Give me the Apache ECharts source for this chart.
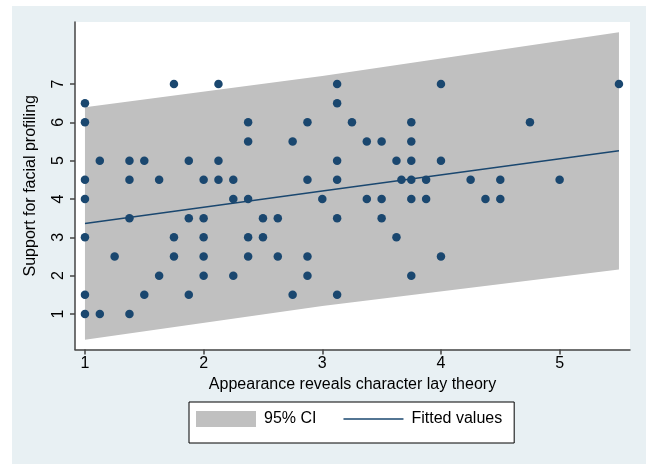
<!DOCTYPE html>
<html>
<head>
<meta charset="utf-8">
<script src="https://cdn.jsdelivr.net/npm/echarts@6/dist/echarts.min.js"></script>
<style>
html,body{margin:0;padding:0;background:#fff;width:646px;height:464px;overflow:hidden;}
#bg{position:absolute;left:12px;top:6px;width:634px;height:458px;background:#e8f0f3;}
#chart{position:absolute;left:0;top:0;width:646px;height:464px;}
</style>
</head>
<body>
<div id="bg"></div>
<div id="chart"></div>
<script>
// Scatter observations (appearance lay theory, support for facial profiling)
const pointX = [
  1,1,1,1,1,1,1,
  1.125,1.125,
  1.25,
  1.375,1.375,1.375,1.375,
  1.5,1.5,
  1.625,1.625,
  1.75,1.75,1.75,
  1.875,1.875,1.875,
  2,2,2,2,2,
  2.125,2.125,2.125,
  2.25,2.25,2.25,
  2.375,2.375,2.375,2.375,2.375,
  2.5,2.5,
  2.625,2.625,
  2.75,2.75,
  2.875,2.875,2.875,2.875,
  3,
  3.125,3.125,3.125,3.125,3.125,3.125,
  3.25,
  3.375,3.375,
  3.5,3.5,3.5,
  3.625,3.625,
  3.667,
  3.75,3.75,3.75,3.75,3.75,3.75,
  3.875,3.875,
  4,4,4,
  4.25,
  4.375,
  4.5,4.5,
  4.75,
  5,
  5.5
];
const pointY = [
  6.5,6,4.5,4,3,1.5,1,
  5,1,
  2.5,
  5,4.5,3.5,1,
  5,1.5,
  4.5,2,
  7,3,2.5,
  5,3.5,1.5,
  4.5,3.5,3,2.5,2,
  7,5,4.5,
  4.5,4,2,
  6,5.5,4,3,2.5,
  3.5,3,
  3.5,2.5,
  5.5,1.5,
  6,4.5,2.5,2,
  4,
  7,6.5,5,4.5,3.5,1.5,
  6,
  5.5,4,
  5.5,4,3.5,
  5,3,
  4.5,
  6,5.5,5,4.5,4,2,
  4.5,4,
  7,5,2.5,
  4.5,
  4,
  4.5,4,
  6,
  4.5,
  7
];
// Fitted line and 95% CI band
const fitX = [1, 3, 5.5];
const fitY = [3.36, 4.21, 5.26];
const ciLower = [0.33, 1.21, 2.16];
const ciUpper = [6.39, 7.21, 8.35];
const xTicks = [1, 2, 3, 4, 5];
const yTicks = [1, 2, 3, 4, 5, 6, 7];

const scatterData = pointX.map((x, i) => [x, pointY[i]]);
const fitData = fitX.map((x, i) => [x, fitY[i]]);
const bandData = fitX.map((x, i) => [x, ciLower[i], ciUpper[i]]);

const FONT = '"Liberation Sans", Arial, Helvetica, sans-serif';
const chart = echarts.init(document.getElementById('chart'), null, {renderer: 'canvas'});

chart.setOption({
  backgroundColor: 'transparent',
  animation: false,
  textStyle: {fontFamily: FONT},
  grid: {
    left: 75, top: 22, width: 555, height: 327.5,
    show: true, backgroundColor: '#ffffff', borderWidth: 0,
    containLabel: false
  },
  xAxis: {
    type: 'value', min: 0.916, max: 5.593,
    name: 'Appearance reveals character lay theory',
    nameLocation: 'middle', nameGap: 27,
    nameTextStyle: {fontSize: 16, color: '#000', fontFamily: FONT},
    axisLine: {show: true, onZero: false, lineStyle: {color: '#444', width: 1.5}},
    axisTick: {show: true, length: 5, customValues: xTicks, lineStyle: {color: '#444', width: 1.5}},
    axisLabel: {customValues: xTicks, fontSize: 16, color: '#000', margin: 6, fontFamily: FONT},
    splitLine: {show: false}
  },
  yAxis: {
    type: 'value', min: 0.074, max: 8.617,
    name: 'Support for facial profiling',
    nameLocation: 'middle', nameGap: 36, nameRotate: 90,
    nameTextStyle: {fontSize: 16, color: '#000', fontFamily: FONT},
    axisLine: {show: true, onZero: false, lineStyle: {color: '#444', width: 1.5}},
    axisTick: {show: true, length: 5, customValues: yTicks, lineStyle: {color: '#444', width: 1.5}},
    axisLabel: {customValues: yTicks, rotate: 90, fontSize: 16, color: '#000', margin: 8, fontFamily: FONT},
    splitLine: {show: false}
  },
  legend: {
    left: 189, top: 402,
    padding: [9, 12, 16, 7],
    backgroundColor: '#ffffff', borderColor: '#000', borderWidth: 1,
    itemWidth: 60, itemHeight: 16, itemGap: 27,
    textStyle: {fontSize: 16, color: '#000', fontFamily: FONT, padding: [0, 0, 0, 3]},
    data: [
      {name: '95% CI', icon: 'rect'},
      {name: 'Fitted values', icon: 'path://M0,0 L60,0 L60,1.5 L0,1.5 Z'}
    ]
  },
  series: [
    {
      name: '95% CI', type: 'custom', data: bandData, z: 1,
      itemStyle: {color: '#c0c0c0'},
      encode: {x: 0, y: [1, 2]},
      renderItem: function (params, api) {
        if (params.dataIndex !== 0) return null;
        const up = [], lo = [];
        for (let i = 0; i < bandData.length; i++) {
          up.push(api.coord([bandData[i][0], bandData[i][2]]));
          lo.unshift(api.coord([bandData[i][0], bandData[i][1]]));
        }
        return {type: 'polygon', shape: {points: up.concat(lo)}, style: {fill: '#c0c0c0'}};
      }
    },
    {
      name: 'Fitted values', type: 'line', data: fitData, z: 2,
      symbol: 'none', color: '#1a476f',
      lineStyle: {color: '#1a476f', width: 1.5}
    },
    {
      name: 'obs', type: 'scatter', data: scatterData, z: 3,
      symbol: 'circle', symbolSize: 8.5,
      itemStyle: {color: '#1a476f', opacity: 1}
    }
  ]
});
</script>
</body>
</html>
